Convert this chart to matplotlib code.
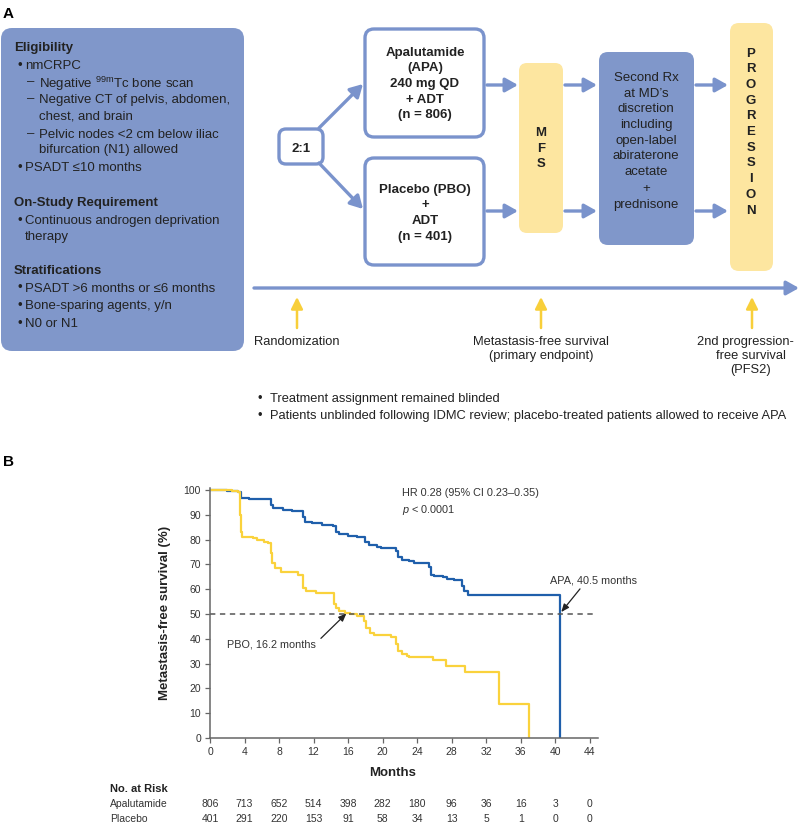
import matplotlib
matplotlib.use("Agg")
import matplotlib.pyplot as plt
from matplotlib.patches import FancyBboxPatch
from matplotlib.transforms import blended_transform_factory

plt.rcParams["font.family"] = ["Liberation Sans", "DejaVu Sans"]
plt.rcParams["mathtext.fontset"] = "custom"
plt.rcParams["mathtext.rm"] = "Liberation Sans"
plt.rcParams["mathtext.it"] = "Liberation Sans:italic"

# Kaplan-Meier steps (month, % free of metastasis)
apa_months = [0, 2.0, 3.3, 3.6, 4.5, 6.0, 7.1, 7.3, 8.5, 9.5, 10.8, 11.0, 11.8, 13.0,
              14.3, 14.6, 14.9, 16.0, 17.0, 18.0, 18.4, 19.3, 19.8, 21.5, 21.8, 22.2,
              23.0, 23.6, 25.4, 25.6, 26.0, 27.0, 27.5, 28.3, 29.2, 29.4, 29.9, 40.5]
apa_surv = [100, 99.6, 99.2, 96.8, 96.5, 96.2, 94.0, 92.6, 92.0, 91.6, 89.0, 87.2, 86.5, 86.0,
            85.4, 83.2, 82.3, 81.5, 81.0, 79.2, 77.8, 77.0, 76.5, 75.2, 73.0, 71.8,
            71.2, 70.5, 69.0, 65.8, 65.2, 64.8, 64.0, 63.6, 61.1, 59.1, 57.7, 0]

pbo_months = [0, 2.5, 3.2, 3.45, 3.55, 3.75, 5.0, 5.5, 6.3, 6.7, 7.1, 7.2, 7.5, 8.2, 8.8,
              10.2, 10.8, 11.1, 12.3, 14.4, 14.6, 15.0, 15.6, 16.2, 17.0, 17.9, 18.1, 18.5,
              19.0, 21.0, 21.6, 21.8, 22.3, 22.8, 23.0, 25.8, 27.4, 29.5, 33.5, 37.0]
pbo_surv = [100, 99.6, 99.0, 90.0, 83.0, 81.2, 80.6, 80.0, 79.2, 78.5, 74.5, 70.5, 68.5, 67.1, 66.8,
            65.6, 60.5, 59.1, 58.6, 54.0, 52.3, 51.3, 50.5, 49.8, 49.3, 47.0, 44.3, 42.2,
            41.5, 40.8, 38.0, 34.9, 34.0, 33.0, 32.6, 31.6, 29.2, 26.7, 13.7, 0]

risk_months = [0, 4, 8, 12, 16, 20, 24, 28, 32, 36, 40, 44]
risk_apa = [806, 713, 652, 514, 398, 282, 180, 96, 36, 16, 3, 0]
risk_pbo = [401, 291, 220, 153, 91, 58, 34, 13, 5, 1, 0, 0]
y_ticks = [0, 10, 20, 30, 40, 50, 60, 70, 80, 90, 100]

BOX_BLUE = "#8097ca"
EDGE_BLUE = "#7a93cc"
SOFT_YELLOW = "#fde6a0"
GOLD = "#f8cf3a"
APA_BLUE = "#1f5fab"
PBO_YELLOW = "#fad23c"
TXT = "#222222"

fig = plt.figure(figsize=(8, 8.23), dpi=100)

# overlay in pixel units for the study design panel
ov = fig.add_axes([0, 0, 1, 1])
ov.set_xlim(0, 800)
ov.set_ylim(823, 0)
ov.axis("off")


def box(x0, y0, x1, y1, fc, ec="none", lw=0, r=8):
    ov.add_patch(FancyBboxPatch((x0, y0), x1 - x0, y1 - y0,
                                boxstyle=f"round,pad=0,rounding_size={r}",
                                fc=fc, ec=ec, lw=lw))


def arrow(x0, y0, x1, y1, color=EDGE_BLUE, lw=2.4, hl=0.75, hw=0.42):
    ov.annotate("", xy=(x1, y1), xytext=(x0, y0),
                arrowprops=dict(arrowstyle=f"-|>,head_length={hl},head_width={hw}",
                                color=color, lw=lw, shrinkA=0, shrinkB=0,
                                mutation_scale=10))


def txt(x, y, s, size=9.5, bold=False, ha="left", **kw):
    ov.text(x, y, s, fontsize=size, fontweight="bold" if bold else "normal",
            ha=ha, va="center_baseline", color=kw.pop("color", TXT), **kw)


ov.text(3, 12, "A", fontsize=11, fontweight="bold", va="center_baseline")
ov.text(3, 460, "B", fontsize=11, fontweight="bold", va="center_baseline")

# eligibility box
box(1, 28, 244, 351, BOX_BLUE, r=11)
left_lines = [
    (46, "head", "Eligibility"),
    (64, "bullet", "nmCRPC"),
    (81, "dash", r"Negative $^{\mathregular{99m}}$Tc bone scan"),
    (98, "dash", "Negative CT of pelvis, abdomen,"),
    (115, "cont2", "chest, and brain"),
    (133, "dash", "Pelvic nodes <2 cm below iliac"),
    (148, "cont2", "bifurcation (N1) allowed"),
    (166, "bullet", "PSADT ≤10 months"),
    (201, "head", "On-Study Requirement"),
    (219, "bullet", "Continuous androgen deprivation"),
    (235, "cont1", "therapy"),
    (270, "head", "Stratifications"),
    (287, "bullet", "PSADT >6 months or ≤6 months"),
    (305, "bullet", "Bone-sparing agents, y/n"),
    (322, "bullet", "N0 or N1"),
]
for y, kind, s in left_lines:
    if kind == "head":
        txt(14, y, s, bold=True)
    elif kind == "bullet":
        txt(17, y, "•")
        txt(25, y, s)
    elif kind == "dash":
        txt(27, y, "–")
        txt(39, y, s)
    elif kind == "cont1":
        txt(25, y, s)
    else:
        txt(39, y, s)

# randomisation and arms
box(279, 129, 323, 164, "white", EDGE_BLUE, 2.4, r=7)
txt(301, 147, "2:1", bold=True, ha="center")
box(365, 29, 484, 137, "white", EDGE_BLUE, 2.4, r=9)
for y, s in zip([51, 66, 82, 98, 113],
                ["Apalutamide", "(APA)", "240 mg QD", "+ ADT", "(n = 806)"]):
    txt(425, y, s, bold=True, ha="center")
box(365, 158, 484, 265, "white", EDGE_BLUE, 2.4, r=9)
for y, s in zip([188, 203, 219, 235], ["Placebo (PBO)", "+", "ADT", "(n = 401)"]):
    txt(425, y, s, bold=True, ha="center")

box(519, 63, 563, 233, SOFT_YELLOW, r=8)
for y, s in zip([131, 147, 162], "MFS"):
    txt(541, y, s, bold=True, ha="center")

box(599, 52, 694, 245, BOX_BLUE, r=9)
rx_lines = ["Second Rx", "at MD’s", "discretion", "including", "open-label",
            "abiraterone", "acetate", "+", "prednisone"]
for y, s in zip([76, 92, 107, 123, 139, 154, 170, 187, 203], rx_lines):
    txt(646, y, s, ha="center")

box(730, 23, 773, 271, SOFT_YELLOW, r=9)
for i, s in enumerate("PROGRESSION"):
    txt(751, 52 + i * 15.7, s, bold=True, ha="center")

arrow(319, 128, 363, 84)
arrow(319, 163, 363, 209)
for y in (85, 211):
    arrow(487, y, 518, y)
    arrow(565, y, 597, y)
    arrow(696, y, 728, y)
arrow(254, 288, 799, 288)

for x in (297, 541, 752):
    arrow(x, 328, x, 297, color=GOLD, lw=1.8, hl=0.7, hw=0.35)

txt(297, 340, "Randomization", size=9.3, ha="center")
txt(541, 340, "Metastasis-free survival", size=9.3, ha="center")
txt(541, 354, "(primary endpoint)", size=9.3, ha="center")
txt(745, 340, "2nd progression-", size=9.3, ha="center")
txt(751, 354, "free survival", size=9.3, ha="center")
txt(751, 368, "(PFS2)", size=9.3, ha="center")

txt(257, 397, "•", size=9.3)
txt(270, 397, "Treatment assignment remained blinded", size=9.3)
txt(257, 414, "•", size=9.3)
txt(270, 414, "Patients unblinded following IDMC review; placebo-treated patients allowed to receive APA",
    size=9.3)

# Kaplan-Meier panel
ax = fig.add_axes([210 / 800, 85 / 823, 388.4 / 800, 250 / 823])
ax.step(apa_months, apa_surv, where="post", color=APA_BLUE, lw=1.6)
ax.step(pbo_months, pbo_surv, where="post", color=PBO_YELLOW, lw=1.6)
ax.hlines(50, 0, 44.5, colors="#555555", linestyles=(0, (3.5, 3)), lw=1.1)
ax.set_xlim(0, 45)
ax.set_ylim(0, 100.8)
ax.set_xticks(risk_months)
ax.set_yticks(y_ticks)
ax.patch.set_alpha(0)
for side in ("top", "right"):
    ax.spines[side].set_visible(False)
for side in ("left", "bottom"):
    ax.spines[side].set_color("#666666")
    ax.spines[side].set_linewidth(1.1)
ax.tick_params(length=3.5, width=0.9, color="#666666", labelsize=7.5,
               labelcolor="#333333", pad=3)
ax.set_ylabel("Metastasis-free survival (%)", fontsize=9.5, fontweight="bold", color=TXT)
ax.yaxis.set_label_coords(-0.10, 0.5)
ax.set_xlabel("Months", fontsize=9.5, fontweight="bold", color=TXT)
ax.xaxis.set_label_coords(0.47, -0.117)

ax.text(22.2, 99.3, "HR 0.28 (95% CI 0.23–0.35)", fontsize=7.8, color="#333333",
        va="center_baseline")
ax.text(22.2, 92.8, r"$\it{p}$ < 0.0001", fontsize=7.8, color="#333333", va="center_baseline")

ax.annotate("PBO, 16.2 months", xy=(15.8, 50.2), xytext=(2.0, 38.3),
            fontsize=7.8, color="#333333", va="center_baseline",
            arrowprops=dict(arrowstyle="-|>,head_length=0.6,head_width=0.25",
                            color="#222222", lw=0.9, shrinkA=2, shrinkB=0,
                            relpos=(1.0, 0.6)))
ax.annotate("APA, 40.5 months", xy=(40.7, 50.8), xytext=(39.4, 64.1),
            fontsize=7.8, color="#333333", va="center_baseline",
            arrowprops=dict(arrowstyle="-|>,head_length=0.6,head_width=0.25",
                            color="#222222", lw=0.9, shrinkA=1, shrinkB=0,
                            relpos=(0.38, 0.0)))

# numbers at risk
tr = blended_transform_factory(ax.transData, ax.transAxes)
txt(110, 788, "No. at Risk", size=8, bold=True)
txt(110, 803, "Apalutamide", size=7.5, color="#333333")
txt(110, 818, "Placebo", size=7.5, color="#333333")
for m, a, p in zip(risk_months, risk_apa, risk_pbo):
    ax.text(m, -0.26, str(a), transform=tr, ha="center", va="center_baseline",
            fontsize=7.5, color="#333333")
    ax.text(m, -0.32, str(p), transform=tr, ha="center", va="center_baseline",
            fontsize=7.5, color="#333333")

fig.savefig("out.png", dpi=100)
